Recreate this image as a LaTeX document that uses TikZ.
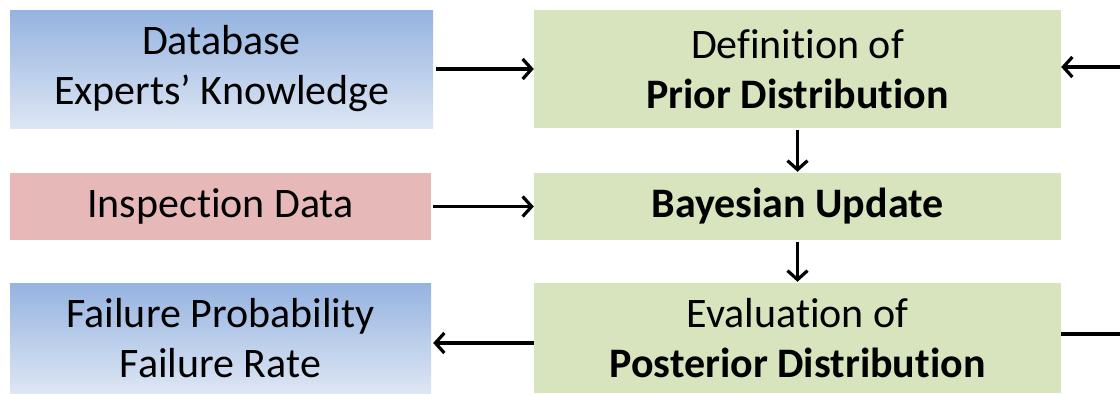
\documentclass[tikz,border=0pt]{standalone}
\usepackage{fontspec}
\setmainfont{Carlito}[Ligatures={NoCommon}]
\usetikzlibrary{arrows.meta}
\definecolor{boxgreen}{HTML}{D7E4BD}
\definecolor{boxred}{HTML}{E6B9B8}
\definecolor{bluetop}{HTML}{95B3E0}
\definecolor{bluebot}{HTML}{DDE6F4}
\tikzset{
  base/.style={inner sep=0pt, align=center, font=\fontsize{42}{50}\selectfont},
  bluebox/.style={base, top color=bluetop, bottom color=bluebot},
  greenbox/.style={base, fill=boxgreen},
  redbox/.style={base, fill=boxred},
  conn/.style={line width=3.2pt, -{Straight Barb[length=9pt,width=20pt,line width=3.2pt]}},
  plain/.style={line width=3.2pt}
}
\begin{document}
\begin{tikzpicture}[x=1pt,y=-1pt]
\useasboundingbox (0,0) rectangle (1120,394);
\node[bluebox, minimum width=423pt, minimum height=118pt] (A) at (221.5,69) {Database\\Experts’ Knowledge};
\node[greenbox, minimum width=527pt, minimum height=118pt] (B) at (797.5,69) {Definition of\\\textbf{Prior Distribution}};
\node[redbox, minimum width=421pt, minimum height=67pt] (C) at (220.5,206.5) {Inspection Data};
\node[greenbox, minimum width=527pt, minimum height=67pt] (D) at (797.5,206.5) {\textbf{Bayesian Update}};
\node[bluebox, minimum width=421pt, minimum height=110pt] (E) at (220.5,338) {Failure Probability\\Failure Rate};
\node[greenbox, minimum width=527pt, minimum height=110pt] (F) at (797.5,338) {Evaluation of\\\textbf{Posterior Distribution}};
\coordinate (rin) at (1120,67);
\coordinate (rout) at (1120,334);
\draw[conn] ([xshift=3pt]A.east) -- (B.west);
\draw[conn] ([xshift=2pt]C.east) -- (D.west);
\draw[conn] ([yshift=-5pt]F.west) -- ([xshift=2pt,yshift=-5pt]E.east);
\draw[conn] ([yshift=-2pt]B.south) -- ([yshift=1pt]D.north);
\draw[conn] ([yshift=-2pt]D.south) -- ([yshift=1pt]F.north);
\draw[conn] (rin) -- ([yshift=2pt]B.east);
\draw[plain] ([yshift=4pt]F.east) -- (rout);
\end{tikzpicture}
\end{document}
